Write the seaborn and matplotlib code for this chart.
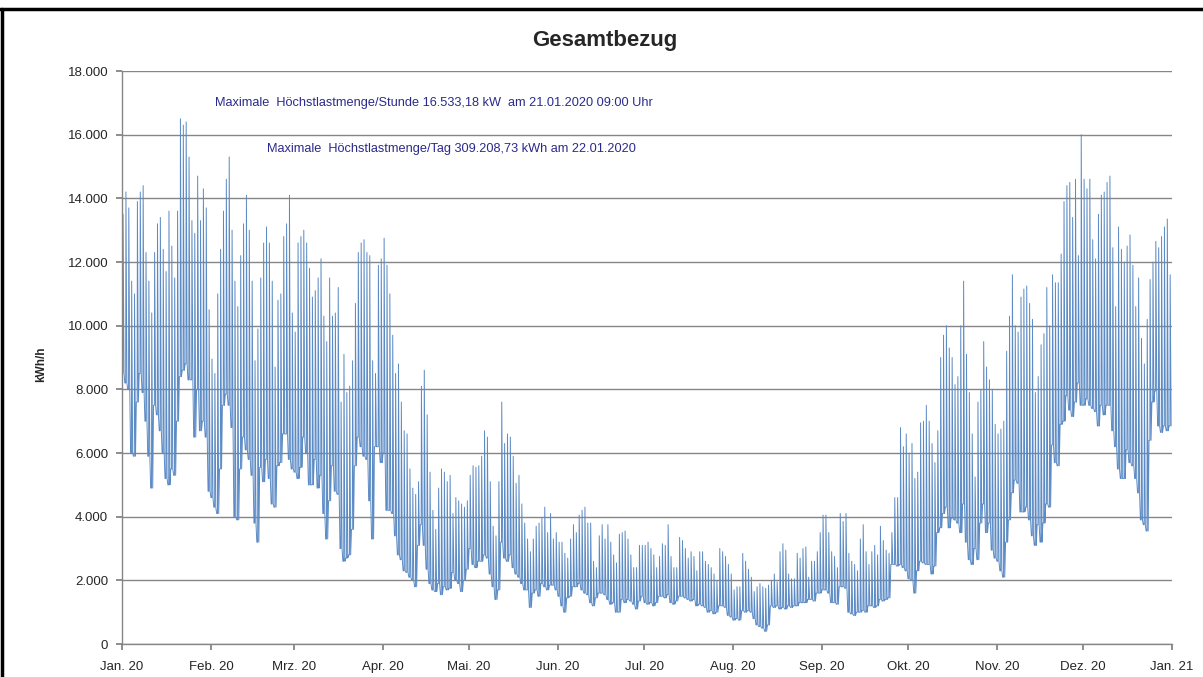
import numpy as np
import pandas as pd
import matplotlib
matplotlib.use("Agg")
import matplotlib.pyplot as plt
import matplotlib.dates as mdates
from matplotlib.lines import Line2D
from matplotlib.ticker import FuncFormatter, FixedLocator
import seaborn as sns

# ---- data: daily peak and base load (thousand kWh/h) ----
peak_jan = [13.5, 14.2, 13.7, 11.4, 11.0, 13.9, 14.2, 14.4, 12.3, 11.4, 10.4, 12.3, 13.2, 13.4, 12.4, 11.7,
            13.6, 12.5, 11.5, 13.6, 16.5, 16.3, 16.4, 15.3, 13.3, 12.9, 14.7, 13.3, 14.3, 13.7, 10.5]
base_jan = [8.5, 8.2, 8.0, 6.0, 5.9, 7.6, 8.5, 7.9, 7.0, 5.9, 4.9, 7.5, 7.2, 6.7, 6.0, 5.2,
            5.0, 5.5, 5.3, 7.0, 8.4, 8.6, 8.8, 8.3, 8.3, 6.5, 8.0, 6.7, 7.0, 6.5, 4.8]
peak_feb = [8.95, 8.5, 11.0, 12.4, 13.6, 14.6, 15.3, 13.0, 11.4, 10.6, 12.2, 13.2, 14.1, 13.0, 11.4, 8.9,
            9.9, 11.5, 12.6, 13.1, 12.6, 11.4, 8.7, 10.8, 11.0, 12.8, 13.2, 14.1, 10.4]
base_feb = [4.6, 4.3, 4.1, 5.5, 7.5, 7.85, 7.5, 6.8, 4.0, 3.9, 5.5, 6.5, 6.1, 5.8, 5.3, 3.8,
            3.2, 5.55, 5.1, 5.8, 5.2, 4.4, 4.3, 5.6, 5.7, 6.6, 6.6, 5.8, 5.5]
peak_mar = [9.8, 12.6, 12.8, 13.0, 12.6, 11.8, 10.9, 11.1, 11.5, 12.1, 10.3, 9.5, 11.5, 10.3, 10.4, 11.2,
            7.6, 9.1, 7.9, 8.1, 8.9, 10.7, 12.3, 12.6, 12.7, 12.3, 12.2, 8.9, 8.5, 11.9, 12.1]
base_mar = [5.4, 5.2, 5.55, 6.5, 6.0, 5.0, 5.0, 5.8, 4.9, 5.3, 4.1, 3.3, 4.5, 5.6, 4.8, 4.7,
            3.0, 2.6, 2.7, 2.8, 3.6, 5.6, 6.5, 6.2, 5.9, 5.8, 4.5, 3.3, 6.2, 6.2, 5.7]
peak_apr = [12.75, 11.9, 11.0, 9.7, 8.5, 8.8, 7.6, 6.7, 6.6, 5.5, 4.9, 4.7, 5.1, 8.1, 8.6, 7.2,
            5.4, 4.2, 3.6, 4.9, 5.5, 5.4, 5.1, 5.3, 4.1, 4.6, 4.5, 4.4, 4.3, 4.5]
base_apr = [6.0, 4.2, 4.2, 4.1, 3.4, 2.8, 2.65, 2.3, 2.25, 2.1, 2.0, 1.8, 3.1, 3.75, 3.1, 2.35,
            1.9, 1.7, 1.65, 1.9, 1.55, 1.8, 1.7, 1.75, 2.25, 2.0, 1.9, 1.65, 2.0, 2.35]
peak_may = [5.3, 5.6, 5.55, 5.6, 5.9, 6.7, 6.5, 5.1, 3.7, 3.4, 5.1, 7.6, 6.3, 6.6, 6.5, 5.9,
            5.05, 5.3, 4.4, 3.8, 3.3, 2.9, 3.3, 3.7, 3.8, 3.95, 4.3, 3.5, 4.1, 3.3, 3.5]
base_may = [3.0, 2.5, 2.4, 2.6, 2.6, 2.8, 2.7, 2.2, 1.8, 1.4, 1.7, 3.2, 2.7, 2.6, 2.8, 2.4,
            2.2, 2.1, 1.9, 1.7, 1.7, 1.15, 1.6, 1.7, 1.5, 1.9, 1.8, 1.7, 1.85, 1.85, 1.7]
peak_jun = [3.2, 3.2, 2.85, 2.7, 3.3, 3.75, 3.5, 4.05, 4.2, 4.3, 3.8, 3.8, 2.6, 2.4, 3.4, 3.75,
            3.3, 3.75, 3.2, 2.8, 2.55, 3.45, 3.5, 3.55, 3.3, 2.8, 2.4, 2.4, 3.1, 3.1]
base_jun = [1.5, 1.2, 1.0, 1.45, 1.5, 1.8, 1.8, 1.9, 1.7, 1.6, 1.55, 1.3, 1.2, 1.45, 1.6, 1.6,
            1.55, 1.4, 1.25, 1.3, 1.0, 1.0, 1.4, 1.3, 1.4, 1.35, 1.25, 1.1, 1.35, 1.5]
peak_jul = [3.1, 3.2, 3.0, 2.8, 2.4, 2.75, 3.15, 3.1, 3.75, 2.75, 2.4, 2.4, 3.35, 3.25, 3.0, 2.7,
            2.9, 2.75, 2.3, 2.9, 2.9, 2.6, 2.5, 2.4, 2.2, 2.0, 3.0, 2.9, 2.75, 2.5, 2.2]
base_jul = [1.3, 1.25, 1.3, 1.2, 1.3, 1.5, 1.5, 1.45, 1.55, 1.3, 1.25, 1.35, 1.5, 1.5, 1.45, 1.4,
            1.35, 1.4, 1.2, 1.25, 1.2, 1.15, 1.0, 1.05, 0.95, 1.0, 1.2, 1.2, 1.15, 0.9, 0.85]
peak_aug = [1.7, 1.8, 1.8, 2.85, 2.6, 2.35, 2.1, 1.65, 1.8, 1.9, 1.8, 1.75, 1.85, 2.0, 2.2, 1.95,
            2.9, 3.15, 2.95, 2.2, 2.05, 2.05, 2.85, 2.7, 3.0, 3.05, 2.1, 2.6, 2.6, 2.9, 3.5]
base_aug = [0.75, 0.8, 0.75, 1.05, 1.0, 1.05, 1.0, 0.8, 0.6, 0.55, 0.5, 0.4, 0.6, 1.2, 1.15, 1.2,
            1.1, 1.15, 1.1, 1.2, 1.15, 1.2, 1.2, 1.3, 1.3, 1.3, 1.4, 1.4, 1.35, 1.6, 1.6]
peak_sep = [4.05, 4.05, 3.5, 2.9, 2.75, 2.4, 4.1, 3.85, 4.1, 2.85, 2.6, 2.5, 2.3, 3.3, 3.75, 2.9,
            2.5, 2.9, 3.1, 2.8, 3.7, 3.25, 2.95, 2.85, 3.5, 4.6, 4.6, 6.8, 6.2, 6.6]
base_sep = [1.7, 1.7, 1.6, 1.3, 1.3, 1.25, 1.8, 1.8, 1.75, 1.0, 0.95, 0.9, 1.0, 1.0, 1.05, 1.0,
            1.2, 1.2, 1.15, 1.2, 1.4, 1.35, 1.4, 1.45, 2.5, 2.5, 2.45, 2.5, 2.4, 2.3]
peak_oct = [6.0, 6.3, 5.2, 5.4, 6.95, 7.0, 7.5, 7.0, 6.3, 5.7, 6.7, 9.0, 9.7, 10.0, 9.3, 9.0,
            8.15, 8.4, 10.0, 11.4, 9.1, 7.9, 6.6, 5.25, 7.6, 8.0, 9.5, 8.7, 8.3, 8.0, 6.9]
base_oct = [2.05, 2.0, 1.6, 2.3, 2.6, 2.55, 2.5, 2.5, 2.2, 2.45, 3.5, 3.65, 4.1, 4.3, 3.65, 3.95,
            3.9, 3.8, 3.5, 4.4, 3.2, 2.65, 2.5, 3.0, 2.65, 3.8, 4.4, 3.5, 3.8, 2.95, 2.7]
peak_nov = [6.6, 6.75, 7.0, 9.2, 10.3, 11.6, 10.0, 9.8, 10.9, 11.15, 11.25, 10.7, 10.2, 7.9, 8.4, 9.4,
            9.75, 11.2, 10.0, 11.6, 11.35, 11.35, 12.25, 13.9, 14.4, 14.5, 13.4, 14.6, 12.2, 16.0]
base_nov = [2.6, 2.3, 2.1, 3.2, 3.9, 4.75, 5.15, 5.05, 4.15, 4.15, 4.3, 3.9, 3.4, 3.1, 3.75, 3.2,
            3.8, 4.4, 4.3, 6.25, 5.7, 5.6, 6.9, 7.0, 7.8, 7.35, 7.15, 7.6, 8.2, 7.5]
peak_dec = [14.6, 14.3, 14.6, 12.7, 12.1, 13.5, 14.1, 14.2, 14.5, 14.7, 12.45, 10.6, 13.1, 12.4, 12.0, 12.5,
            12.85, 11.9, 10.6, 11.5, 9.6, 8.8, 10.2, 11.45, 12.0, 12.65, 12.45, 12.8, 13.1, 13.35, 11.6]
base_dec = [7.5, 7.7, 7.5, 7.4, 7.3, 6.85, 7.5, 7.2, 7.5, 7.5, 6.7, 6.2, 5.5, 5.2, 5.2, 6.1,
            5.7, 5.6, 5.2, 4.75, 3.9, 3.75, 3.55, 6.4, 7.6, 7.95, 6.85, 6.65, 6.85, 6.7, 6.85]

month_labels = ["Jan. 20", "Feb. 20", "Mrz. 20", "Apr. 20", "Mai. 20", "Jun. 20", "Jul. 20",
                "Aug. 20", "Sep. 20", "Okt. 20", "Nov. 20", "Dez. 20", "Jan. 21"]
y_ticks = [0, 2000, 4000, 6000, 8000, 10000, 12000, 14000, 16000, 18000]
title = "Gesamtbezug"
note_hour = "Maximale  Höchstlastmenge/Stunde 16.533,18 kW  am 21.01.2020 09:00 Uhr"
note_day = "Maximale  Höchstlastmenge/Tag 309.208,73 kWh am 22.01.2020"

# hours of the day at which base / peak readings are placed
base_hours = [0, 7, 17]
peak_hour = 9

peaks = sum([peak_jan, peak_feb, peak_mar, peak_apr, peak_may, peak_jun, peak_jul,
             peak_aug, peak_sep, peak_oct, peak_nov, peak_dec], [])
bases = sum([base_jan, base_feb, base_mar, base_apr, base_may, base_jun, base_jul,
             base_aug, base_sep, base_oct, base_nov, base_dec], [])
days = pd.date_range("2020-01-01", periods=len(peaks), freq="D")

rows = []
for d, p, b in zip(days, peaks, bases):
    for h in sorted(base_hours + [peak_hour]):
        v = p if h == peak_hour else b
        rows.append((d + pd.Timedelta(hours=h), v * 1000))
df = pd.DataFrame(rows, columns=["Zeit", "kWh/h"])

# ---- plot ----
sns.set_theme(style="white")
plt.rcParams["font.family"] = ["Liberation Sans", "DejaVu Sans"]

fig = plt.figure(figsize=(12.03, 6.77), dpi=100)
ax = fig.add_axes([0.1014, 0.0487, 0.8728, 0.8464])

sns.lineplot(data=df, x="Zeit", y="kWh/h", ax=ax, color="#5B8AC4", linewidth=0.7,
             estimator=None, errorbar=None)

ax.set_xlim(pd.Timestamp("2020-01-01"), pd.Timestamp("2021-01-01"))
ax.set_ylim(0, 18000)
month_starts = pd.date_range("2020-01-01", "2021-01-01", freq="MS")
ax.xaxis.set_major_locator(FixedLocator(mdates.date2num(month_starts)))
ax.set_xticklabels(month_labels, fontsize=9.5)
ax.set_yticks(y_ticks)
ax.yaxis.set_major_formatter(FuncFormatter(lambda v, _: f"{int(v):,}".replace(",", ".")))
ax.tick_params(axis="y", labelsize=9.5, length=4, color="#808080", pad=6)
ax.tick_params(axis="x", length=4, color="#808080", pad=8)
ax.tick_params(left=True, bottom=True)
ax.grid(axis="y", color="#868686", linewidth=1.0)
ax.grid(axis="x", visible=False)
for s in ["top", "right"]:
    ax.spines[s].set_visible(False)
for s in ["left", "bottom"]:
    ax.spines[s].set_color("#868686")
    ax.spines[s].set_linewidth(1.0)

ax.set_xlabel("")
ax.set_ylabel("kWh/h", fontsize=8.5, fontweight="bold")
ax.yaxis.set_label_coords(-0.0714, 0.489)

fig.text(0.503, 0.94, title, ha="center", va="center", fontsize=16, fontweight="bold")
fig.text(0.179, 0.848, note_hour, ha="left", va="center", fontsize=9.2, color="#2A2A8C")
fig.text(0.222, 0.780, note_day, ha="left", va="center", fontsize=9.2, color="#2A2A8C")

# outer frame like the screenshot
fig.add_artist(Line2D([0, 1], [0.986, 0.986], transform=fig.transFigure, color="black", linewidth=2.5))
fig.add_artist(Line2D([0.0015, 0.0015], [0, 0.986], transform=fig.transFigure, color="black", linewidth=2.5))

fig.savefig("out.png", dpi=100)
